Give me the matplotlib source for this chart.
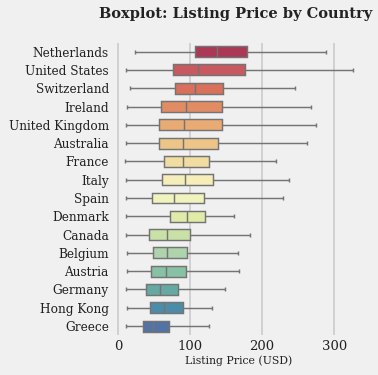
import matplotlib
matplotlib.use("Agg")
import matplotlib.pyplot as plt
import numpy as np
import colorsys

countries = ["Netherlands", "United States", "Switzerland", "Ireland", "United Kingdom",
             "Australia", "France", "Italy", "Spain", "Denmark", "Canada", "Belgium",
             "Austria", "Germany", "Hong Kong", "Greece"]
whislo = [24, 11, 17, 12.5, 11, 11, 10, 11, 11, 11, 11, 12.5, 12.5, 11, 12.5, 11]
q1 = [107, 76, 79, 60, 57, 57, 64, 61, 47, 72, 43, 48.6, 45.8, 39, 44.4, 34.7]
med = [137.5, 111, 107, 94.4, 91.7, 90, 90, 93, 78, 96, 68, 68, 66.7, 58.3, 64, 48.6]
q3 = [179, 176, 146, 144.4, 144.4, 139, 126, 132, 119.4, 121, 100, 96, 94.4, 83.3, 90, 70.8]
whishi = [288, 326, 246, 268, 275, 262.5, 219, 237.5, 229, 161, 183, 166.7, 168, 148.6, 130.6, 126.4]

plt.style.use("fivethirtyeight")
plt.rcParams["font.family"] = ["DejaVu Serif"]

def desat(c, p=0.75):
    h, l, s = colorsys.rgb_to_hls(*c[:3])
    return colorsys.hls_to_rgb(h, l, s * p)

cmap = matplotlib.colormaps["Spectral"]
n = len(countries)
bins = np.linspace(0, 1, n + 2)[1:-1]
colors = [desat(cmap(b)) for b in bins]

fig = plt.figure(figsize=(3.78, 3.75), dpi=100)
fig.patch.set_facecolor("#f0f0f0")
ax = fig.add_axes([113 / 378, (375 - 335.2) / 375, (363.8 - 113) / 378, (335.2 - 42.5) / 375])
ax.set_facecolor("#f0f0f0")

stats = []
for i in range(n):
    stats.append(dict(whislo=whislo[i], q1=q1[i], med=med[i], q3=q3[i], whishi=whishi[i],
                      fliers=[], label=countries[i]))
pos = list(range(n))
lc = "#747474"
lw = 1.05
bp = ax.bxp(stats, positions=pos, vert=False, widths=0.6, capwidths=0.22,
            patch_artist=True, showfliers=False,
            boxprops=dict(edgecolor=lc, linewidth=lw),
            whiskerprops=dict(color=lc, linewidth=lw),
            capprops=dict(color=lc, linewidth=lw),
            medianprops=dict(color=lc, linewidth=lw))
for patch, c in zip(bp["boxes"], colors):
    patch.set_facecolor(c)

ax.set_ylim(n - 0.5, -0.5)
ax.set_xlim(-7, 341)
ax.set_xticks([0, 100, 200, 300])
ax.grid(axis="y", visible=False)
ax.grid(axis="x", color="#cbcbcb", linewidth=1.2)
ax.set_axisbelow(True)
for s in ax.spines.values():
    s.set_visible(False)
ax.tick_params(axis="y", length=0, labelsize=8.7, pad=3, colors="#222222")
ax.tick_params(axis="x", length=0, labelsize=9.5, colors="#222222")
ax.set_xlabel("Listing Price (USD)", fontsize=7.8, color="#222222", labelpad=2)
fig.text(0.624, 0.963, "Boxplot: Listing Price by Country", ha="center", va="center",
         fontsize=10.5, fontweight="bold", color="#222222")
fig.savefig("out.png", dpi=100, facecolor=fig.get_facecolor())
